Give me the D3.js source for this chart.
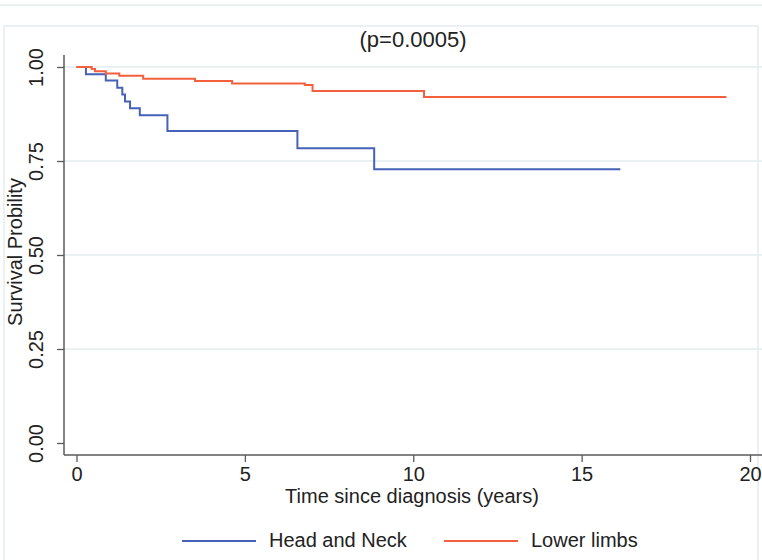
<!DOCTYPE html>
<html>
<head>
<meta charset="utf-8">
<script src="https://cdn.jsdelivr.net/npm/d3@7"></script>
<style>
  body { margin: 0; background: #fff; }
  svg { display: block; font-family: "Liberation Sans", Arial, sans-serif; }
  .frame { fill: none; stroke: #e4ecef; stroke-width: 1.5; }
  .grid line { stroke: #e3ecef; stroke-width: 1.5; }
  .axis-line { stroke: #5a5a5a; stroke-width: 1.5; }
  .axis .tick line { stroke: #5a5a5a; stroke-width: 1.3; }
  .axis text { fill: #222; font-size: 20px; }
  .curve { fill: none; stroke-width: 2; }
  .label { fill: #222; font-size: 20px; }
</style>
</head>
<body>
<script>
/* global d3 */

// Kaplan-Meier estimates
let headNeckTime = [0, 0.28, 0.87, 1.21, 1.36, 1.44, 1.59, 1.88, 2.70, 6.56, 8.84, 16.15]
let headNeckSurv = [1, 0.981, 0.964, 0.945, 0.927, 0.908, 0.890, 0.872, 0.830, 0.784, 0.728, 0.728]

let lowerLimbsTime = [0, 0.45, 0.55, 0.87, 1.27, 1.98, 3.52, 4.62, 6.78, 7.01, 10.32, 19.3]
let lowerLimbsSurv = [1, 0.995, 0.989, 0.983, 0.977, 0.969, 0.963, 0.956, 0.952, 0.936, 0.920, 0.920]

let seriesNames = ['Head and Neck', 'Lower limbs']
let seriesColors = ['#4662b6', '#f4603e']

let xTicks = [0, 5, 10, 15, 20]
let yTicks = [0, 0.25, 0.5, 0.75, 1]
let gridTicks = [0.25, 0.5, 0.75, 1]

let titleText = '(p=0.0005)'
let xTitle = 'Time since diagnosis (years)'
let yTitle = 'Survival Probility'

function main () {
  let width = 762
  let height = 560
  let plot = {left: 64, right: 775, top: 55, bottom: 455}

  let svg = d3.select('body').append('svg')
    .attr('width', width)
    .attr('height', height)

  // outer light frame
  svg.append('line').attr('class', 'frame')
    .attr('x1', 0).attr('x2', width).attr('y1', 5).attr('y2', 5)
  svg.append('rect').attr('class', 'frame')
    .attr('x', 4).attr('y', 26).attr('width', 754).attr('height', 560)

  let x = d3.scaleLinear().domain([0, 20]).range([76.5, 750])
  let y = d3.scaleLinear().domain([0, 1]).range([443, 67])

  // grid
  svg.append('g').attr('class', 'grid')
    .selectAll('line').data(gridTicks).enter()
    .append('line')
    .attr('x1', plot.left).attr('x2', plot.right)
    .attr('y1', d => y(d)).attr('y2', d => y(d))

  // curves
  let series = [
    {times: headNeckTime, surv: headNeckSurv},
    {times: lowerLimbsTime, surv: lowerLimbsSurv},
  ]
  let line = d3.line()
    .x(d => x(d[0]))
    .y(d => y(d[1]))
    .curve(d3.curveStepAfter)
  series.forEach((s, i) => {
    svg.append('path')
      .datum(d3.zip(s.times, s.surv))
      .attr('class', 'curve')
      .attr('stroke', seriesColors[i])
      .attr('d', line)
  })

  // axes
  let xAxis = svg.append('g').attr('class', 'axis')
    .attr('transform', `translate(0, ${plot.bottom})`)
    .call(d3.axisBottom(x).tickValues(xTicks).tickSize(7).tickPadding(5))
  xAxis.select('.domain').remove()
  xAxis.selectAll('text').attr('dy', '0.71em')

  let yAxis = svg.append('g').attr('class', 'axis')
    .attr('transform', `translate(${plot.left}, 0)`)
    .call(d3.axisLeft(y).tickValues(yTicks).tickSize(7)
      .tickFormat(d3.format('.2f')))
  yAxis.select('.domain').remove()
  yAxis.selectAll('text')
    .attr('transform', 'rotate(-90)')
    .attr('text-anchor', 'middle')
    .attr('x', 0)
    .attr('y', -21)
    .attr('dy', 0)

  svg.append('line').attr('class', 'axis-line')
    .attr('x1', plot.left).attr('x2', plot.right)
    .attr('y1', plot.bottom).attr('y2', plot.bottom)
  svg.append('line').attr('class', 'axis-line')
    .attr('x1', plot.left).attr('x2', plot.left)
    .attr('y1', plot.top).attr('y2', plot.bottom)

  // titles
  svg.append('text').attr('class', 'label')
    .attr('x', 413).attr('y', 47)
    .attr('text-anchor', 'middle')
    .style('font-size', '22px')
    .text(titleText)
  svg.append('text').attr('class', 'label')
    .attr('x', 412).attr('y', 503)
    .attr('text-anchor', 'middle')
    .text(xTitle)
  svg.append('text').attr('class', 'label')
    .attr('transform', 'translate(22, 252) rotate(-90)')
    .attr('text-anchor', 'middle')
    .text(yTitle)

  // legend
  let legendX = [182, 444]
  let legend = svg.append('g')
    .selectAll('g').data(seriesNames).enter()
    .append('g')
    .attr('transform', (d, i) => `translate(${legendX[i]}, 541)`)
  legend.append('line')
    .attr('x1', 0).attr('x2', 74)
    .attr('stroke', (d, i) => seriesColors[i])
    .attr('stroke-width', 2)
  legend.append('text').attr('class', 'label')
    .attr('x', 87).attr('y', 6)
    .text(d => d)
}

main()
</script>
</body>
</html>
